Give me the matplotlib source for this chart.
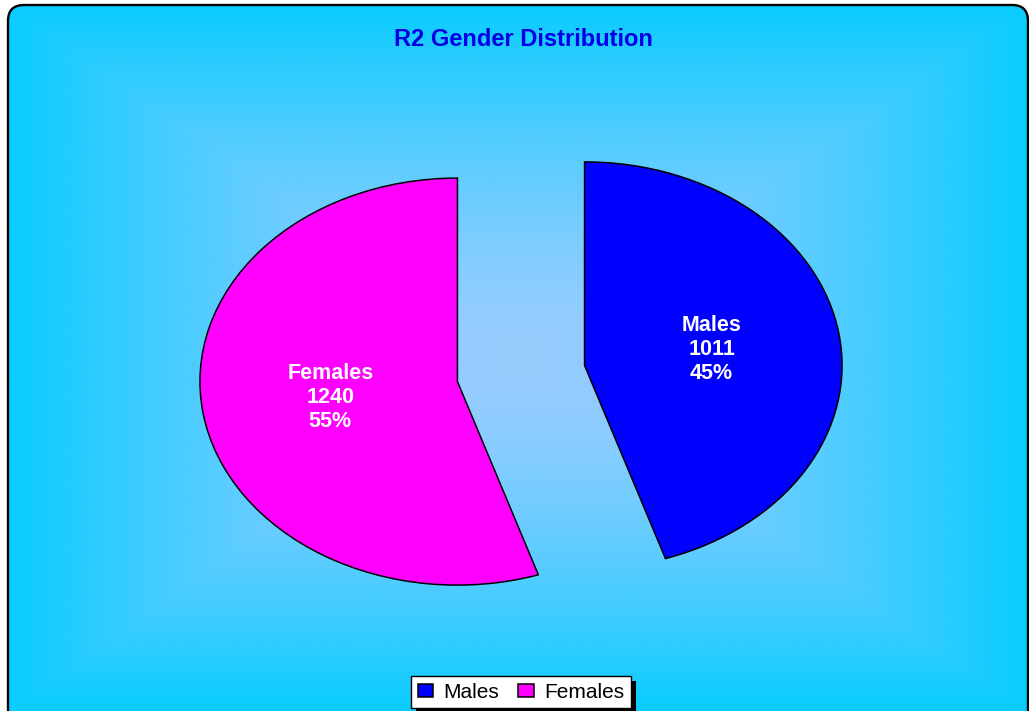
import numpy as np
import matplotlib
matplotlib.use('Agg')
import matplotlib.pyplot as plt
from matplotlib.patches import FancyBboxPatch, Rectangle

# ---- data ----
categories = ['Males', 'Females']
counts = [1011, 1240]
colors = ['#0000FF', '#FF00FF']
title = 'R2 Gender Distribution'

W, H = 1029, 711
fig = plt.figure(figsize=(W / 100, H / 100), dpi=100)
fig.patch.set_facecolor('white')

# ---- background (rounded frame with rectangular gradient) ----
bg = fig.add_axes([0, 0, 1, 1], zorder=0)
x0, y0, x1, y1 = 8, 5, 1028, 760
frame = FancyBboxPatch((x0, y0), x1 - x0, y1 - y0,
                       boxstyle='round,pad=0,rounding_size=16',
                       facecolor='none', edgecolor='black', linewidth=1.7, zorder=3)
bg.add_patch(frame)
gy1 = 712
xs = np.linspace(x0, x1, 700)
ys = np.linspace(y0, y1, 520)
X, Y = np.meshgrid(xs, ys)
cx, cy = (x0 + x1) / 2, (y0 + gy1) / 2
t = np.maximum(np.abs(X - cx) / ((x1 - x0) / 2), np.abs(Y - cy) / ((gy1 - y0) / 2))
t = np.clip(t, 0, 1) ** 1.5
c_center = np.array([153, 204, 255]) / 255
c_edge = np.array([8, 204, 255]) / 255
img = c_center * (1 - t[..., None]) + c_edge * t[..., None]
im = bg.imshow(img, extent=(x0, x1, y1, y0), interpolation='bilinear', zorder=1, aspect='auto')
im.set_clip_path(frame)
bg.set_xlim(0, W)
bg.set_ylim(H, 0)
bg.axis('off')

# ---- pie ----
ax = fig.add_axes([0.10593, 0.07398, 0.80078, 0.80141], zorder=1)
wedges, _ = ax.pie(counts, colors=colors, startangle=90, counterclock=False,
                   explode=[0.25, 0.25], radius=1,
                   wedgeprops=dict(edgecolor='black', linewidth=1.1))
ax.set_aspect('auto')
ax.set_xlim(-1.6, 1.6)
ax.set_ylim(-1.4, 1.4)
ax.axis('off')

total = sum(counts)
for w, name, n in zip(wedges, categories, counts):
    ang = np.deg2rad((w.theta1 + w.theta2) / 2)
    cxw, cyw = w.center
    r = 0.5
    ax.text(cxw + r * np.cos(ang), cyw + r * np.sin(ang),
            f'{name}\n{n}\n{100 * n / total:.0f}%',
            ha='center', va='center', color='white', fontsize=15.5,
            fontweight='bold', family='Liberation Sans', linespacing=1.2)

# ---- title ----
fig.text(523 / W, 1 - 40 / H, title, ha='center', va='center', fontsize=17,
         fontweight='bold', color='#0000E6', family='Liberation Sans')

# ---- legend ----
leg = fig.legend(wedges, categories, loc='center', bbox_to_anchor=(521 / W, 1 - 692 / H),
                 ncol=2, frameon=True, fancybox=False,
                 prop=dict(family='Liberation Sans', size=15),
                 handlelength=0.75, handleheight=0.6, handletextpad=0.5,
                 columnspacing=0.9, borderpad=0.3, borderaxespad=0)
fr = leg.get_frame()
fr.set_edgecolor('black')
fr.set_linewidth(1.0)
fr.set_facecolor('white')
fr.set_alpha(1)

fig.canvas.draw()
bb = leg.get_window_extent()
bg.add_patch(Rectangle((bb.x0 + 5, H - bb.y1 + 5), bb.width, bb.height,
                       facecolor='black', edgecolor='none', zorder=2))

fig.savefig('out.png', dpi=100)
